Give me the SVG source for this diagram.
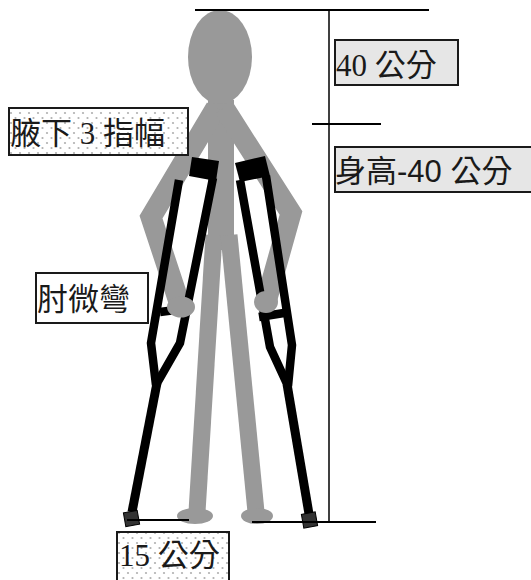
<svg xmlns="http://www.w3.org/2000/svg" width="531" height="580" viewBox="0 0 531 580">
  <defs>
    <pattern id="dots" width="9" height="10" patternUnits="userSpaceOnUse">
      <rect width="9" height="10" fill="#ffffff"/>
      <circle cx="2" cy="3" r="1.1" fill="#b0b0b0"/>
      <circle cx="6.5" cy="8" r="1.1" fill="#b0b0b0"/>
    </pattern>
    <style>
      .body { fill: none; stroke: #999999; stroke-linejoin: miter; stroke-miterlimit: 10; }
      .skin { fill: #999999; }
      .rail { fill: none; stroke: #000000; stroke-width: 8.5; stroke-linejoin: miter; }
      .shaft { fill: none; stroke: #000000; stroke-width: 9; }
      .pad { fill: #000000; }
      .tip { fill: #333333; stroke: #000000; stroke-width: 1; }
      .dim { stroke: #000000; fill: none; }
      .box { stroke: #1a1a1a; stroke-width: 2; }
      .lbl { font-size: 31px; fill: #1a1a1a; }
      .serif { font-family: "Liberation Serif", "Noto Sans CJK TC", serif; }
      .sans { font-family: "Liberation Sans", "Noto Sans CJK TC", sans-serif; }
    </style>
  </defs>

  <!-- figure -->
  <g id="figure">
    <line class="body" x1="221" y1="100" x2="221" y2="250" stroke-width="26"/>
    <line class="body" x1="214" y1="235" x2="197" y2="512" stroke-width="17"/>
    <line class="body" x1="229" y1="235" x2="256" y2="512" stroke-width="17"/>
    <ellipse class="skin" cx="195" cy="516" rx="18" ry="8"/>
    <ellipse class="skin" cx="257" cy="516" rx="16" ry="8"/>
    <polyline class="body" points="216,108 151,217 180,305" stroke-width="21"/>
    <polyline class="body" points="224,108 291,213 266,302" stroke-width="21"/>
    <ellipse class="skin" cx="220" cy="57" rx="32" ry="47"/>
  </g>

  <!-- crutches -->
  <g id="crutch-left">
    <polygon class="pad" points="192,157 219,161 216,181 189,176"/>
    <polyline class="rail" points="179,180 151,343 156,385"/>
    <polyline class="rail" points="213,178 180,343 156,385"/>
    <line class="shaft" x1="157" y1="383" x2="132" y2="512"/>
    <line class="rail" x1="160" y1="312" x2="183" y2="309" stroke-width="5"/>
    <rect class="tip" x="124.5" y="511.5" width="14" height="14" transform="rotate(-10 131.5 518.5)"/>
  </g>
  <g id="crutch-right">
    <polygon class="pad" points="235,163 265,156 270,176 240,182"/>
    <polyline class="rail" points="240,180 270,347 288,386"/>
    <polyline class="rail" points="266,176 292,345 288,386"/>
    <line class="shaft" x1="287" y1="384" x2="309" y2="514"/>
    <line class="rail" x1="259" y1="317" x2="284" y2="313" stroke-width="5"/>
    <rect class="tip" x="302.5" y="513" width="14" height="14" transform="rotate(-10 309.5 520)"/>
  </g>

  <!-- hands -->
  <g id="hands">
    <ellipse class="skin" cx="181" cy="307" rx="14" ry="10.5"/>
    <ellipse class="skin" cx="266" cy="302" rx="12" ry="11"/>
  </g>

  <!-- measurement lines -->
  <g id="connectors">
    <line class="dim" x1="195" y1="10" x2="429" y2="10" stroke-width="2"/>
    <line class="dim" x1="329" y1="10" x2="329" y2="522" stroke-width="1.5"/>
    <line class="dim" x1="312" y1="124" x2="381" y2="124" stroke-width="2"/>
    <line class="dim" x1="252" y1="522" x2="376" y2="522" stroke-width="2"/>
    <line class="dim" x1="127" y1="520" x2="189" y2="520" stroke-width="2"/>
  </g>

  <!-- labels -->
  <g id="label-armpit">
    <rect class="box" x="9" y="108" width="179" height="47" fill="url(#dots)"/>
    <text class="lbl serif" x="10" y="144">腋下 3 指幅</text>
  </g>
  <g id="label-top">
    <rect class="box" x="335" y="40" width="123" height="45" fill="#e6e6e6"/>
    <text class="lbl serif" x="336" y="76">40 公分</text>
  </g>
  <g id="label-height">
    <rect class="box" x="335" y="147" width="210" height="45" fill="#e6e6e6"/>
    <text class="lbl sans" x="335" y="182">身高-40 公分</text>
  </g>
  <g id="label-elbow">
    <rect class="box" x="36" y="273" width="112" height="50" fill="#ffffff"/>
    <text class="lbl serif" x="37" y="310">肘微彎</text>
  </g>
  <g id="label-base">
    <rect class="box" x="117" y="532" width="112" height="60" fill="url(#dots)"/>
    <text class="lbl serif" x="119" y="566">15 公分</text>
  </g>
</svg>
